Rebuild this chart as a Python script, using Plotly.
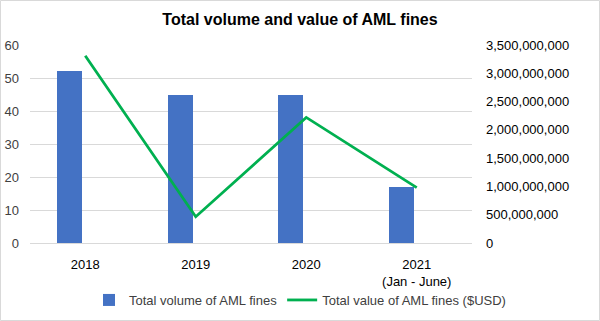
import plotly.graph_objects as go

categories = ["2018", "2019", "2020", "2021<br>(Jan - June)"]
volume = [52, 45, 45, 17]
value_usd = [3310000000, 465000000, 2220000000, 980000000]
left_ticks = [0, 10, 20, 30, 40, 50, 60]
right_ticks = [0, 500000000, 1000000000, 1500000000, 2000000000, 2500000000, 3000000000, 3500000000]

W, H = 600, 321
L, R, T, B = 30, 128, 45, 78
FONT = "Liberation Sans"
TXT = "#404040"

fig = go.Figure()
fig.add_trace(go.Bar(
    x=categories, y=volume, name="Total volume of AML fines",
    marker=dict(color="#4472C4", line=dict(width=0)),
    offset=-0.255, width=0.226, yaxis="y",
))
fig.add_trace(go.Scatter(
    x=categories, y=value_usd, name="Total value of AML fines ($USD)",
    mode="lines", line=dict(color="#00B050", width=2.8), yaxis="y2",
))

pw = W - L - R
ph = H - T - B
fig.add_shape(type="rect", xref="paper", yref="paper",
              x0=-(L - 0.5) / pw, x1=1 + (R - 0.5) / pw,
              y0=-(B - 0.5) / ph, y1=1 + (T - 0.5) / ph,
              line=dict(color="#D9D9D9", width=1), layer="below")

fig.update_layout(
    width=W, height=H,
    margin=dict(l=L, r=R, t=T, b=B, autoexpand=False),
    paper_bgcolor="white", plot_bgcolor="white",
    font=dict(family=FONT, size=13, color=TXT),
    title=dict(text="<b>Total volume and value of AML fines</b>", x=0.5, xref="container",
               xanchor="center", y=1 - 19 / H, yanchor="middle",
               font=dict(family=FONT, size=16, color="#000000")),
    showlegend=True,
    legend=dict(orientation="h", x=0.5, xanchor="center", xref="container",
                y=1 - 300 / H, yref="container", yanchor="middle",
                bgcolor="rgba(0,0,0,0)",
                font=dict(size=13, color=TXT), itemwidth=30, traceorder="normal"),
    bargap=0,
    xaxis=dict(type="category", showgrid=False, showline=False, ticks="",
               tickfont=dict(size=13, color="#000000"), range=[-0.5, 3.5],
               automargin=False, ticklabelstandoff=12),
    yaxis=dict(range=[0, 60], tickvals=left_ticks, showgrid=True, gridcolor="#D9D9D9",
               gridwidth=1, zeroline=True, zerolinecolor="#D9D9D9", zerolinewidth=1,
               showline=False, ticks="", tickfont=dict(size=13, color=TXT),
               ticklabelstandoff=10, automargin=False),
    yaxis2=dict(range=[0, 3500000000], tickvals=right_ticks, overlaying="y", side="right",
                showgrid=False, zeroline=False, showline=False, ticks="",
                tickformat=",d", tickfont=dict(size=13, color="#000000"),
                ticklabelstandoff=13, automargin=False),
)

fig.write_html("out.html")
